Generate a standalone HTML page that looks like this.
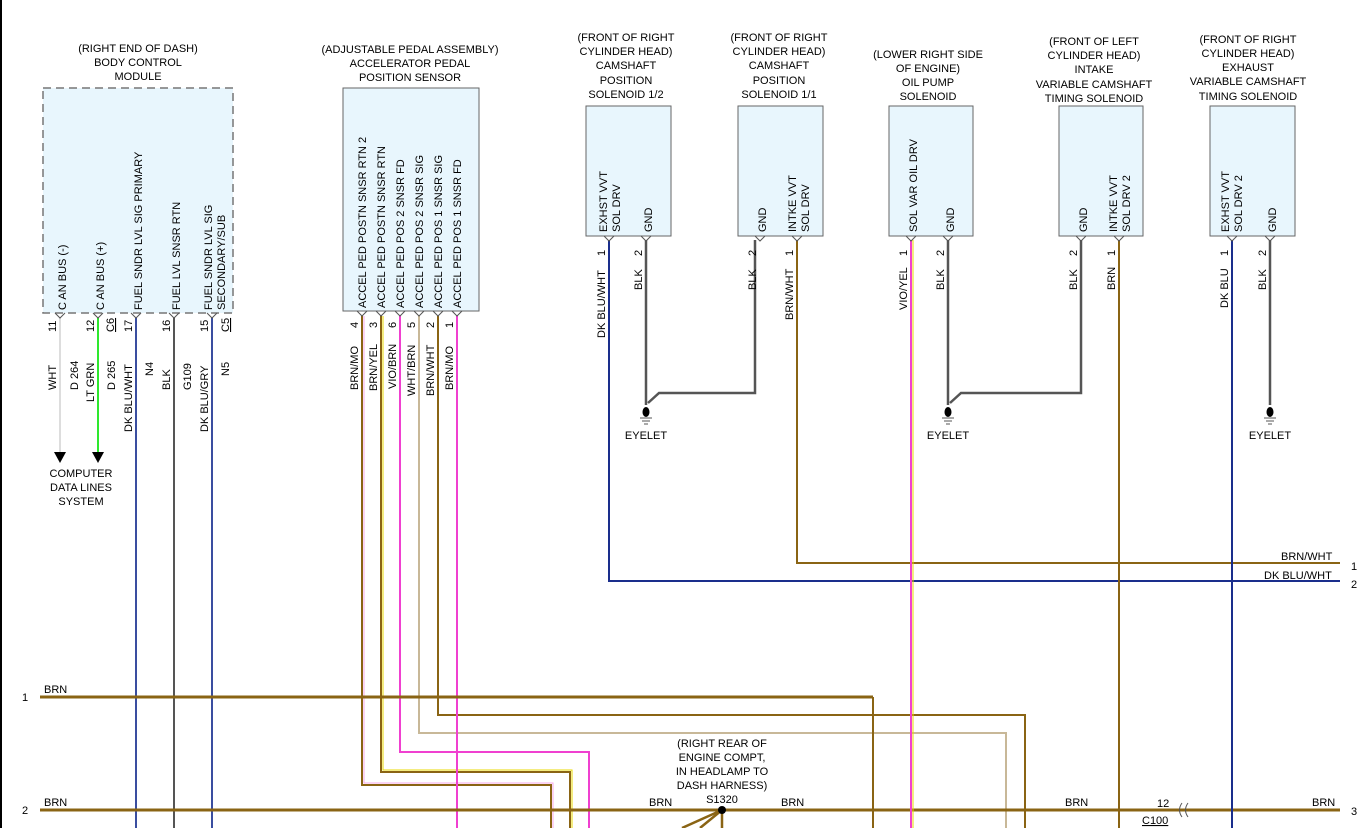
<!DOCTYPE html>
<html><head><meta charset="utf-8"><style>
body{margin:0;background:#fff}
svg{display:block}
text{font-family:"Liberation Sans",Arial,sans-serif;font-size:11px;fill:#000}
.t{text-anchor:middle}
</style></head><body>
<svg width="1366" height="828" viewBox="0 0 1366 828">
<line x1="1" y1="0" x2="1" y2="828" stroke="#000" stroke-width="2"/>
<!-- titles -->
<g class="t">
<text x="138" y="52" class="t">(RIGHT END OF DASH)</text><text x="138" y="66" class="t">BODY CONTROL</text><text x="138" y="80" class="t">MODULE</text>
<text x="410" y="53" class="t">(ADJUSTABLE PEDAL ASSEMBLY)</text><text x="410" y="67" class="t">ACCELERATOR PEDAL</text><text x="410" y="81" class="t">POSITION SENSOR</text>
<text x="626" y="41" class="t">(FRONT OF RIGHT</text><text x="626" y="55" class="t">CYLINDER HEAD)</text><text x="626" y="69" class="t">CAMSHAFT</text><text x="626" y="84" class="t">POSITION</text><text x="626" y="98" class="t">SOLENOID 1/2</text>
<text x="779" y="41" class="t">(FRONT OF RIGHT</text><text x="779" y="55" class="t">CYLINDER HEAD)</text><text x="779" y="69" class="t">CAMSHAFT</text><text x="779" y="84" class="t">POSITION</text><text x="779" y="98" class="t">SOLENOID 1/1</text>
<text x="928" y="58" class="t">(LOWER RIGHT SIDE</text><text x="928" y="72" class="t">OF ENGINE)</text><text x="928" y="86" class="t">OIL PUMP</text><text x="928" y="100" class="t">SOLENOID</text>
<text x="1094" y="45" class="t">(FRONT OF LEFT</text><text x="1094" y="59" class="t">CYLINDER HEAD)</text><text x="1094" y="73" class="t">INTAKE</text><text x="1094" y="88" class="t">VARIABLE CAMSHAFT</text><text x="1094" y="102" class="t">TIMING SOLENOID</text>
<text x="1248" y="43" class="t">(FRONT OF RIGHT</text><text x="1248" y="57" class="t">CYLINDER HEAD)</text><text x="1248" y="71" class="t">EXHAUST</text><text x="1248" y="85" class="t">VARIABLE CAMSHAFT</text><text x="1248" y="100" class="t">TIMING SOLENOID</text>
</g>
<!-- boxes -->
<rect x="43" y="88" width="190" height="225" fill="#e8f6fd" stroke="#777" stroke-width="1.5" stroke-dasharray="8,5"/>
<rect x="343" y="88" width="136" height="223" fill="#e8f6fd" stroke="#666"/>
<rect x="586" y="106" width="85" height="130" fill="#e8f6fd" stroke="#666"/>
<rect x="738" y="106" width="85" height="130" fill="#e8f6fd" stroke="#666"/>
<rect x="889" y="106" width="84" height="130" fill="#e8f6fd" stroke="#666"/>
<rect x="1059" y="106" width="84" height="130" fill="#e8f6fd" stroke="#666"/>
<rect x="1210" y="106" width="85" height="130" fill="#e8f6fd" stroke="#666"/>
<!-- inner labels -->
<g>
<text transform="translate(66,310) rotate(-90)">C AN BUS (-)</text>
<text transform="translate(104,310) rotate(-90)">C AN BUS (+)</text>
<text transform="translate(142,310) rotate(-90)">FUEL SNDR LVL SIG PRIMARY</text>
<text transform="translate(180,310) rotate(-90)">FUEL LVL SNSR RTN</text>
<text transform="translate(212,310) rotate(-90)">FUEL SNDR LVL SIG</text>
<text transform="translate(225,310) rotate(-90)">SECONDARY/SUB</text>
<text transform="translate(366,308) rotate(-90)">ACCEL PED POSTN SNSR RTN 2</text>
<text transform="translate(385,308) rotate(-90)">ACCEL PED POSTN SNSR RTN</text>
<text transform="translate(404,308) rotate(-90)">ACCEL PED POS 2 SNSR FD</text>
<text transform="translate(423,308) rotate(-90)">ACCEL PED POS 2 SNSR SIG</text>
<text transform="translate(442,308) rotate(-90)">ACCEL PED POS 1 SNSR SIG</text>
<text transform="translate(461,308) rotate(-90)">ACCEL PED POS 1 SNSR FD</text>
<text transform="translate(607,232) rotate(-90)">EXHST VVT</text><text transform="translate(620,232) rotate(-90)">SOL DRV</text>
<text transform="translate(652,232) rotate(-90)">GND</text>
<text transform="translate(766,232) rotate(-90)">GND</text>
<text transform="translate(796,232) rotate(-90)">INTKE VVT</text><text transform="translate(809,232) rotate(-90)">SOL DRV</text>
<text transform="translate(917,232) rotate(-90)">SOL VAR OIL DRV</text>
<text transform="translate(954,232) rotate(-90)">GND</text>
<text transform="translate(1087,232) rotate(-90)">GND</text>
<text transform="translate(1117,232) rotate(-90)">INTKE VVT</text><text transform="translate(1130,232) rotate(-90)">SOL DRV 2</text>
<text transform="translate(1229,232) rotate(-90)">EXHST VVT</text><text transform="translate(1242,232) rotate(-90)">SOL DRV 2</text>
<text transform="translate(1276,232) rotate(-90)">GND</text>
</g>
<!-- wires -->
<g fill="none" stroke-width="2">
<line x1="60" y1="318" x2="60" y2="452" stroke="#ddd"/>
<line x1="98" y1="318" x2="98" y2="452" stroke="#2ee82e"/>
<line x1="136" y1="318" x2="136" y2="828" stroke="#3a4ea0"/>
<line x1="174" y1="318" x2="174" y2="828" stroke="#555"/>
<line x1="212" y1="318" x2="212" y2="828" stroke="#3a4ea0"/>
<polyline points="362,316 362,785 551,785 551,828" stroke="#8a6414"/>
<polyline points="364,316 364,783 553,783 553,828" stroke="#f7a8e8" stroke-width="1"/>
<polyline points="381,316 381,772 570,772 570,828" stroke="#8a6414"/>
<polyline points="383,316 383,770 572,770 572,828" stroke="#e8d800" stroke-width="1"/>
<polyline points="400,316 400,752 589,752 589,828" stroke="#f040d0"/>
<polyline points="419,316 419,733 1006,733 1006,828" stroke="#c8b898"/>
<polyline points="438,316 438,715 1025,715 1025,828" stroke="#8a6414"/>
<line x1="457" y1="316" x2="457" y2="828" stroke="#f040d0"/>
<line x1="40" y1="697" x2="873" y2="697" stroke="#8a6414" stroke-width="3"/>
<line x1="873" y1="697" x2="873" y2="828" stroke="#8a6414" stroke-width="2"/>
<line x1="40" y1="810" x2="1340" y2="810" stroke="#8a6414" stroke-width="3"/>
<polyline points="609,240 609,581 1340,581" stroke="#1a2e8c"/>
<polyline points="797,240 797,563 1340,563" stroke="#8a6414"/>
<line x1="911" y1="240" x2="911" y2="828" stroke="#f040d0"/>
<line x1="913" y1="240" x2="913" y2="828" stroke="#e8d800" stroke-width="1"/>
<line x1="1119" y1="240" x2="1119" y2="828" stroke="#8a6414"/>
<line x1="1232" y1="240" x2="1232" y2="828" stroke="#1a2e8c"/>
<g stroke="#555" stroke-width="2.5">
<polyline points="646,240 646,405"/><polyline points="648,403 659,393 755,393 755,240"/>
<polyline points="948,240 948,405"/><polyline points="950,403 961,393 1081,393 1081,240"/>
<polyline points="1270,240 1270,405"/>
</g>
<g stroke="#8a6414" stroke-width="2.5">
<line x1="722" y1="810" x2="682" y2="828"/><line x1="722" y1="810" x2="700" y2="828"/><line x1="722" y1="810" x2="722" y2="828"/>
</g>
</g>
<!-- pin marks -->
<g stroke="#555" fill="none" stroke-width="1">
<path d="M55,313 l5,5 l5,-5 M93,313 l5,5 l5,-5 M131,313 l5,5 l5,-5 M169,313 l5,5 l5,-5 M207,313 l5,5 l5,-5"/>
<path d="M357,311 l5,5 l5,-5 M376,311 l5,5 l5,-5 M395,311 l5,5 l5,-5 M414,311 l5,5 l5,-5 M433,311 l5,5 l5,-5 M452,311 l5,5 l5,-5"/>
<path d="M604,236 l5,5 l5,-5 M641,236 l5,5 l5,-5 M755,236 l5,5 l5,-5 M792,236 l5,5 l5,-5 M906,236 l5,5 l5,-5 M943,236 l5,5 l5,-5 M1076,236 l5,5 l5,-5 M1114,236 l5,5 l5,-5 M1227,236 l5,5 l5,-5 M1265,236 l5,5 l5,-5"/>
<path d="M1182,803 q-5,7 0,14 M1188,803 q-5,7 0,14"/>
</g>
<!-- arrows -->
<polygon points="54,452 66,452 60,463" fill="#000"/>
<polygon points="92,452 104,452 98,463" fill="#000"/>
<text x="81" y="477" class="t">COMPUTER</text><text x="81" y="491" class="t">DATA LINES</text><text x="81" y="505" class="t">SYSTEM</text>
<!-- grounds -->
<g fill="#000">
<ellipse cx="646" cy="412" rx="3.5" ry="5"/><ellipse cx="948" cy="412" rx="3.5" ry="5"/><ellipse cx="1270" cy="412" rx="3.5" ry="5"/>
</g>
<g stroke="#555" stroke-width="1">
<path d="M640,418h12M642,421h8M644,424h4M942,418h12M944,421h8M946,424h4M1264,418h12M1266,421h8M1268,424h4"/>
</g>
<text x="646" y="439" class="t">EYELET</text><text x="948" y="439" class="t">EYELET</text><text x="1270" y="439" class="t">EYELET</text>
<!-- wire labels -->
<g>
<text transform="translate(56,332) rotate(-90)">11</text>
<text transform="translate(56,390) rotate(-90)">WHT</text>
<text transform="translate(78,390) rotate(-90)">D 264</text>
<text transform="translate(94,332) rotate(-90)">12</text>
<text transform="translate(94,402) rotate(-90)">LT GRN</text>
<text transform="translate(115,390) rotate(-90)">D 265</text>
<text transform="translate(114,332) rotate(-90)" text-decoration="underline">C6</text>
<text transform="translate(132,332) rotate(-90)">17</text>
<text transform="translate(132,432) rotate(-90)">DK BLU/WHT</text>
<text transform="translate(153,376) rotate(-90)">N4</text>
<text transform="translate(170,332) rotate(-90)">16</text>
<text transform="translate(170,390) rotate(-90)">BLK</text>
<text transform="translate(191,390) rotate(-90)">G109</text>
<text transform="translate(208,332) rotate(-90)">15</text>
<text transform="translate(208,432) rotate(-90)">DK BLU/GRY</text>
<text transform="translate(229,376) rotate(-90)">N5</text>
<text transform="translate(229,332) rotate(-90)" text-decoration="underline">C5</text>
<text transform="translate(358,328) rotate(-90)">4</text><text transform="translate(358,390) rotate(-90)">BRN/MO</text>
<text transform="translate(377,328) rotate(-90)">3</text><text transform="translate(377,391) rotate(-90)">BRN/YEL</text>
<text transform="translate(396,328) rotate(-90)">6</text><text transform="translate(396,389) rotate(-90)">VIO/BRN</text>
<text transform="translate(415,328) rotate(-90)">5</text><text transform="translate(415,396) rotate(-90)">WHT/BRN</text>
<text transform="translate(434,328) rotate(-90)">2</text><text transform="translate(434,396) rotate(-90)">BRN/WHT</text>
<text transform="translate(453,328) rotate(-90)">1</text><text transform="translate(453,390) rotate(-90)">BRN/MO</text>
<text transform="translate(605,256) rotate(-90)">1</text><text transform="translate(605,338) rotate(-90)">DK BLU/WHT</text>
<text transform="translate(642,256) rotate(-90)">2</text><text transform="translate(642,290) rotate(-90)">BLK</text>
<text transform="translate(756,256) rotate(-90)">2</text><text transform="translate(756,290) rotate(-90)">BLK</text>
<text transform="translate(793,256) rotate(-90)">1</text><text transform="translate(793,320) rotate(-90)">BRN/WHT</text>
<text transform="translate(907,256) rotate(-90)">1</text><text transform="translate(907,310) rotate(-90)">VIO/YEL</text>
<text transform="translate(944,256) rotate(-90)">2</text><text transform="translate(944,290) rotate(-90)">BLK</text>
<text transform="translate(1077,256) rotate(-90)">2</text><text transform="translate(1077,290) rotate(-90)">BLK</text>
<text transform="translate(1115,256) rotate(-90)">1</text><text transform="translate(1115,290) rotate(-90)">BRN</text>
<text transform="translate(1228,256) rotate(-90)">1</text><text transform="translate(1228,308) rotate(-90)">DK BLU</text>
<text transform="translate(1266,256) rotate(-90)">2</text><text transform="translate(1266,290) rotate(-90)">BLK</text>
</g>
<text x="1281" y="560">BRN/WHT</text><text x="1351" y="570">1</text>
<text x="1264" y="579">DK BLU/WHT</text><text x="1351" y="588">2</text>
<text x="22" y="701">1</text><text x="44" y="693">BRN</text>
<text x="22" y="814">2</text><text x="44" y="806">BRN</text>
<text x="649" y="806">BRN</text><text x="781" y="806">BRN</text><text x="1065" y="806">BRN</text><text x="1312" y="806">BRN</text>
<text x="1351" y="815">3</text>
<text x="1157" y="807">12</text><text x="1142" y="824" text-decoration="underline">C100</text>
<text x="722" y="747" class="t">(RIGHT REAR OF</text><text x="722" y="761" class="t">ENGINE COMPT,</text><text x="722" y="775" class="t">IN HEADLAMP TO</text><text x="722" y="789" class="t">DASH HARNESS)</text>
<text x="722" y="803" class="t">S1320</text>
<circle cx="722" cy="810" r="4" fill="#000"/>
</svg>
</body></html>
